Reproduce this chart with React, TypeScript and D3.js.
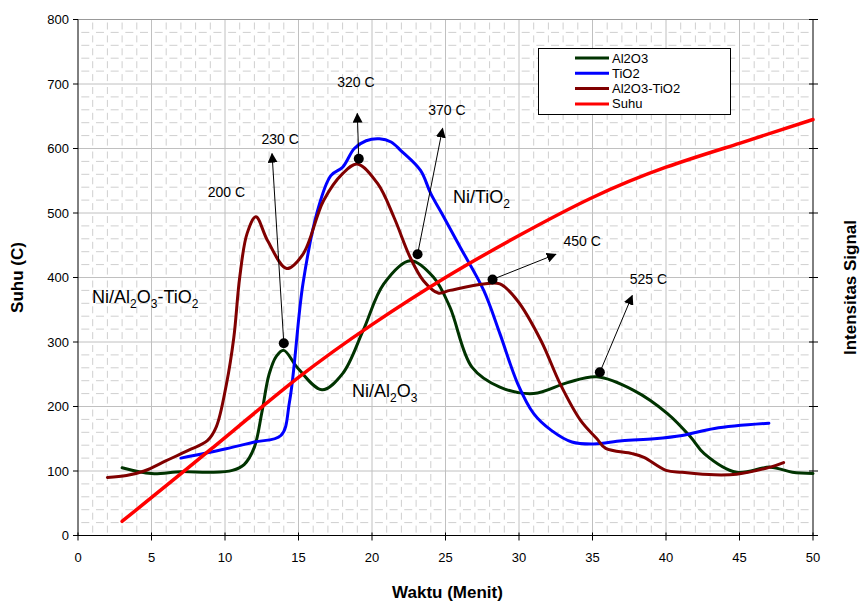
import React from "react";
import * as d3 from "d3";

// time (menit) and value pairs
const al2o3T = [3, 5, 7, 9, 10.5, 11.3, 12, 12.5, 13, 13.5, 14, 14.9, 16.6, 18, 19.4, 20.8, 22.6, 24.2, 25.3, 26.8, 28.7, 31, 33.3, 35.3, 37.8, 40.1, 41.7, 42.6, 44.8, 47.1, 48.6, 50];
const al2o3V = [105, 96, 99, 98, 101, 110, 137, 190, 250, 278, 287, 261, 226, 251, 318, 390, 426, 400, 354, 261, 230, 220, 237, 246, 225, 189, 152, 127, 98, 106, 98, 96];

const tio2T = [7, 10, 12, 13.8, 14.4, 15.3, 16.3, 17.2, 18, 18.8, 19.6, 20.5, 21.3, 22, 23.3, 24, 24.9, 26, 27.6, 28.7, 29.9, 31, 32.2, 33.6, 35.1, 37, 39.2, 41.1, 43.3, 47];
const tio2V = [120, 134, 145, 155, 209, 390, 504, 558, 571, 600, 612, 615, 610, 596, 566, 530, 493, 447, 380, 313, 236, 189, 163, 145, 142, 147, 150, 155, 166, 174];

const mixT = [2, 3.3, 4.5, 6, 7.5, 8.8, 9.4, 10.1, 10.6, 11, 11.5, 12.1, 12.9, 14.2, 15.3, 16.7, 18, 19, 20.4, 21.5, 22.6, 23.5, 24.5, 25.3, 27.6, 28.7, 29.9, 31.5, 32.8, 34.2, 35.3, 35.9, 37.7, 38.5, 40, 41.1, 43.3, 44.8, 47.1, 48];
const mixV = [90, 93, 100, 116, 132, 147, 168, 235, 307, 400, 468, 494, 457, 414, 436, 519, 561, 576, 545, 493, 431, 395, 376, 380, 390, 390, 364, 302, 235, 178, 150, 135, 127, 121, 101, 98, 94, 95, 106, 113];

const suhuT = [3, 9, 15, 20, 25, 30, 35, 40, 45, 50];
const suhuV = [22, 133, 245, 327, 400, 465, 524, 571, 608, 645];

const seriesNames = ["Al2O3", "TiO2", "Al2O3-TiO2", "Suhu"];
const seriesColors = ["#003300", "#0000ff", "#800000", "#ff0000"];

// annotations: dot (t, v), arrow tip (t, v), label
const annoDotT = [14, 19.1, 23.1, 28.2, 35.5];
const annoDotV = [298, 584, 436, 397, 253];
const annoTipT = [13.2, 19.0, 24.8, 32.5, 37.7];
const annoTipV = [592, 654, 631, 436, 372];
const annoLabels = ["230 C", "320 C", "370 C", "450 C", "525 C"];
const annoLabelT = [13.75, 18.9, 25.1, 34.3, 38.8];
const annoLabelV = [614, 703, 659, 457, 397];

const xTicks = [0, 5, 10, 15, 20, 25, 30, 35, 40, 45, 50];
const yTicks = [0, 100, 200, 300, 400, 500, 600, 700, 800];

const zip = (t: number[], v: number[]) => t.map((d, i) => [d, v[i]] as [number, number]);

const App = () => {
  const W = 862, H = 603;
  const m = { left: 78, right: 813, top: 19.5, bottom: 535.5 };
  const x = d3.scaleLinear().domain([0, 50]).range([m.left, m.right]);
  const y = d3.scaleLinear().domain([0, 800]).range([m.bottom, m.top]);

  const smooth = d3.line<[number, number]>()
    .x((d) => x(d[0]))
    .y((d) => y(d[1]))
    .curve(d3.curveCatmullRom.alpha(0.5));
  const natural = d3.line<[number, number]>()
    .x((d) => x(d[0]))
    .y((d) => y(d[1]))
    .curve(d3.curveNatural);

  const minorX = d3.range(1, 50).filter((d) => d % 5 !== 0);
  const minorY = d3.range(20, 800, 20).filter((d) => d % 100 !== 0);
  const majorX = xTicks.slice(1, -1);
  const majorY = yTicks.slice(1);
  const font = "Liberation Sans, Arial, sans-serif";

  const series = [
    zip(al2o3T, al2o3V),
    zip(tio2T, tio2V),
    zip(mixT, mixV),
  ];

  return (
    <svg width={W} height={H} style={{ position: "absolute", left: 0, top: 0, background: "#fff" }} fontFamily={font}>
      <defs>
        <marker id="arr" viewBox="0 0 10 10" refX="9" refY="5" markerWidth="10" markerHeight="10" markerUnits="userSpaceOnUse" orient="auto">
          <path d="M0,0 L10,5 L0,10 z" fill="#000" />
        </marker>
      </defs>
      <rect x={0} y={0} width={W} height={H} fill="#fff" />

      {/* minor dashed grid */}
      <g stroke="#cfcfcf" strokeWidth={1}>
        {minorX.map((t) => (
          <line key={"mx" + t} x1={x(t)} x2={x(t)} y1={m.top} y2={m.bottom} strokeDasharray="7,5.9" strokeDashoffset={-3} />
        ))}
        {minorY.map((v) => (
          <line key={"my" + v} x1={m.left} x2={m.right} y1={y(v)} y2={y(v)} strokeDasharray="8,6.68" strokeDashoffset={-3.3} />
        ))}
      </g>
      {/* major grid */}
      <g stroke="#c0c0c0" strokeWidth={1}>
        {majorX.map((t) => (
          <line key={"Mx" + t} x1={x(t)} x2={x(t)} y1={m.top} y2={m.bottom} />
        ))}
        {majorY.map((v) => (
          <line key={"My" + v} x1={m.left} x2={m.right} y1={y(v)} y2={y(v)} stroke={v === 800 ? "#999" : "#c0c0c0"} />
        ))}
      </g>

      {/* axes */}
      <g stroke="#000" strokeWidth={1}>
        <line x1={m.left} x2={m.left} y1={m.top} y2={m.bottom} />
        <line x1={m.right} x2={m.right} y1={m.top} y2={m.bottom} />
        <line x1={m.left} x2={m.right} y1={m.bottom} y2={m.bottom} />
        {yTicks.map((v) => (
          <line key={"ly" + v} x1={m.left - 5} x2={m.left} y1={y(v)} y2={y(v)} />
        ))}
        {yTicks.map((v) => (
          <line key={"ry" + v} x1={m.right - 4} x2={m.right + 5} y1={y(v)} y2={y(v)} />
        ))}
        {xTicks.map((t) => (
          <line key={"bx" + t} x1={x(t)} x2={x(t)} y1={m.bottom - 3} y2={m.bottom + 5} />
        ))}
      </g>
      <g fontSize={13} fill="#000">
        {yTicks.map((v) => (
          <text key={"yl" + v} x={m.left - 9} y={y(v)} dy="0.35em" textAnchor="end">{v}</text>
        ))}
        {xTicks.map((t) => (
          <text key={"xl" + t} x={x(t)} y={m.bottom + 26} textAnchor="middle">{t}</text>
        ))}
      </g>
      <text x={(m.left + m.right) / 2 + 2} y={598} textAnchor="middle" fontSize={17} fontWeight="bold">Waktu (Menit)</text>
      <text transform={`translate(23,${(m.top + m.bottom) / 2}) rotate(-90)`} textAnchor="middle" fontSize={17} fontWeight="bold">Suhu (C)</text>
      <text transform={`translate(856,${(m.top + m.bottom) / 2 + 10}) rotate(-90)`} textAnchor="middle" fontSize={17} fontWeight="bold">Intensitas Signal</text>

      {/* data lines */}
      {series.map((s, i) => (
        <path key={"s" + i} d={smooth(s) || ""} fill="none" stroke={seriesColors[i]} strokeWidth={3} strokeLinejoin="round" strokeLinecap="round" />
      ))}
      <path d={natural(zip(suhuT, suhuV)) || ""} fill="none" stroke={seriesColors[3]} strokeWidth={3.5} strokeLinecap="round" />

      {/* annotations */}
      {annoLabels.map((lab, i) => (
        <g key={"a" + i}>
          <line x1={x(annoDotT[i])} y1={y(annoDotV[i])} x2={x(annoTipT[i])} y2={y(annoTipV[i])} stroke="#000" strokeWidth={1} markerEnd="url(#arr)" />
          <circle cx={x(annoDotT[i])} cy={y(annoDotV[i])} r={5} fill="#000" />
          <text x={x(annoLabelT[i])} y={y(annoLabelV[i])} dy="0.35em" textAnchor="middle" fontSize={14}>{lab}</text>
        </g>
      ))}
      <text x={x(10.1)} y={y(532)} dy="0.35em" textAnchor="middle" fontSize={14}>200 C</text>

      {/* series labels */}
      <g fontSize={18} fill="#000">
        <text x={92} y={303}>Ni/Al<tspan fontSize={12} dy={5}>2</tspan><tspan dy={-5}>O</tspan><tspan fontSize={12} dy={5}>3</tspan><tspan dy={-5}>-TiO</tspan><tspan fontSize={12} dy={5}>2</tspan></text>
        <text x={352} y={397}>Ni/Al<tspan fontSize={12} dy={5}>2</tspan><tspan dy={-5}>O</tspan><tspan fontSize={12} dy={5}>3</tspan></text>
        <text x={453} y={203}>Ni/TiO<tspan fontSize={12} dy={5}>2</tspan></text>
      </g>

      {/* legend */}
      <g>
        <rect x={538.5} y={48.5} width={192} height={66} fill="#fff" stroke="#000" strokeWidth={1} />
        {seriesNames.map((n, i) => (
          <g key={"lg" + i} transform={`translate(575,${58 + i * 15.3})`}>
            <line x1={0} x2={34} y1={0} y2={0} stroke={seriesColors[i]} strokeWidth={3} />
            <text x={37} y={0} dy="0.35em" fontSize={13}>{n}</text>
          </g>
        ))}
      </g>
    </svg>
  );
};

export default App;
